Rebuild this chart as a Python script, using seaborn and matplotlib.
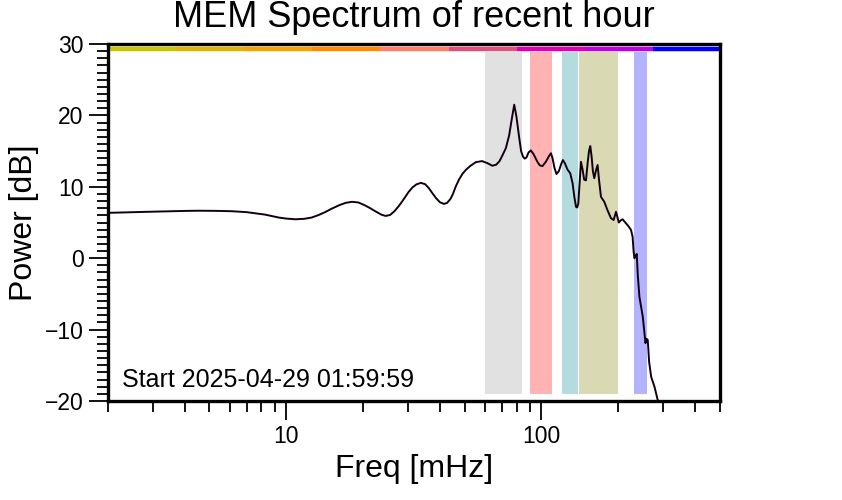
import numpy as np
import pandas as pd
import matplotlib
matplotlib.use("Agg")
import matplotlib.pyplot as plt
import matplotlib.ticker as mticker
import seaborn as sns

# spectrum (freq in mHz, power in dB)
freq = [2.0, 2.5, 2.88, 3.5, 4.0, 4.53, 5.3, 6.12, 7.0, 8.28, 9.33, 10.0, 10.86,
        11.8, 12.6, 13.4, 14.2, 15.1, 16.2, 17.1, 18.1, 19.2, 20.2, 21.1, 22.4,
        23.6, 24.5, 25.5, 26.5, 27.6, 28.4, 29.3, 30.2, 31.2, 32.4, 33.7, 35.0,
        36.2, 37.3, 38.6, 40.0, 41.5, 42.7, 44.0, 45.0, 46.1, 47.5, 49.0, 50.5,
        52.5, 55.3, 58.5, 61.5, 64.2, 66.5, 68.5, 70.3, 72.5, 74.7, 76.5, 78.2,
        79.8, 81.7, 83.2, 84.7, 86.0, 87.3, 89.0, 90.8, 93.0, 96.4, 98.5, 100.9,
        104.0, 107.0, 108.9, 110.5, 112.5, 114.5, 117.0, 119.5, 121.3, 123.5,
        126.5, 129.6, 132.4, 134.5, 136.5, 138.0, 139.4, 141.0, 142.8, 144.9,
        147.0, 149.4, 151.6, 153.5, 155.3, 157.2, 159.0, 161.0, 163.5, 165.9,
        168.0, 171.0, 176.2, 181.0, 187.2, 191.7, 195.9, 200.9, 204.5, 207.9,
        214.3, 220.0, 224.3, 227.5, 229.5, 231.2, 233.5, 236.1, 238.5, 241.9,
        249.4, 255.5, 258.0, 260.8, 264.0, 268.9, 277.1, 285.5, 295.0]
power = [6.35, 6.45, 6.5, 6.58, 6.62, 6.65, 6.63, 6.58, 6.45, 6.1, 5.7, 5.55, 5.45,
         5.52, 5.7, 6.05, 6.45, 6.95, 7.45, 7.75, 7.9, 7.8, 7.45, 7.1, 6.55,
         6.1, 5.92, 6.05, 6.55, 7.3, 7.9, 8.6, 9.3, 9.9, 10.35, 10.55, 10.37,
         9.82, 9.15, 8.43, 7.84, 7.6, 7.75, 8.3, 9.0, 10.0, 11.0, 11.8, 12.35,
         12.9, 13.45, 13.6, 13.3, 12.95, 13.1, 13.6, 14.4, 15.4, 17.2, 19.5, 21.5,
         19.8, 17.0, 15.0, 14.2, 13.95, 14.1, 14.8, 15.1, 14.6, 13.5, 13.0, 12.9,
         13.5, 14.3, 14.7, 14.0, 12.6, 11.8, 12.2, 13.2, 13.75, 13.3,
         12.4, 11.9, 10.5, 8.6, 7.2, 7.1, 7.7, 10.5, 13.5, 12.4,
         11.0, 10.9, 13.3, 15.0, 15.7, 14.2, 12.2, 11.2, 12.3, 13.05,
         11.0, 8.6, 7.9, 6.8, 5.6, 5.35, 6.5, 5.0, 5.3, 5.45,
         4.9, 4.4, 3.95, 3.0, 1.0, 0.0, 0.2, 0.6, -2.5, -5.4,
         -8.2, -11.9, -11.3, -11.45, -14.5, -16.6, -18.0, -19.9, -22.0]

# shaded frequency bands
band_lo = [60, 90, 120, 140.5, 230]
band_hi = [84, 110, 139.5, 200, 260]
band_colors = ["#e1e1e1", "#ffb3b3", "#b4dcdf", "#d9d9b4", "#b3b3ff"]

# colour strip along the top
strip_edges = [2.0, 3.70, 6.84, 12.65, 23.4, 43.3, 80.0, 148.0, 274.0, 500.0]
strip_colors = ["#c8c800", "#e0b400", "#f5a300", "#ff8c00", "#ff7f68",
                "#e0507c", "#e000b4", "#c000e0", "#0000ff"]

start_label = "Start 2025-04-29 01:59:59"

sns.set_style("ticks")
plt.rcParams['font.family'] = ['Liberation Sans', 'DejaVu Sans']
plt.rcParams['axes.unicode_minus'] = True
for k in ["text.color", "axes.labelcolor", "xtick.color", "ytick.color"]:
    plt.rcParams[k] = "black"

fig = plt.figure(figsize=(8.42, 5.0), dpi=100)
ax = fig.add_axes([0.128, 0.198, 0.727, 0.714])

for lo, hi, c in zip(band_lo, band_hi, band_colors):
    ax.axvspan(lo, hi, ymin=0.02, ymax=0.978, color=c, lw=0)

ax.hlines([29.35] * len(strip_colors), strip_edges[:-1], strip_edges[1:],
          colors=strip_colors, lw=3.2)

df = pd.DataFrame({"freq": freq, "power": power})
sns.lineplot(data=df, x="freq", y="power", ax=ax, color="#120012", lw=1.4)

ax.set_xscale("log")
ax.set_xlim(2, 500)
ax.set_ylim(-20, 30)
ax.xaxis.set_major_locator(mticker.FixedLocator([10, 100]))
ax.xaxis.set_major_formatter(mticker.FixedFormatter(["10", "100"]))
ax.xaxis.set_minor_locator(mticker.LogLocator(base=10, subs=np.arange(2, 10)))
ax.xaxis.set_minor_formatter(mticker.NullFormatter())
ax.yaxis.set_major_locator(mticker.MultipleLocator(10))
ax.yaxis.set_minor_locator(mticker.MultipleLocator(1))

ax.tick_params(axis="both", which="major", direction="out", length=14, width=1.3,
               labelsize=16.5, color="black")
ax.tick_params(axis="both", which="minor", direction="out", length=8, width=1.3,
               color="black")
for s in ax.spines.values():
    s.set_linewidth(2.4)
    s.set_color("black")

ax.set_xlabel("Freq [mHz]", fontsize=23)
ax.set_ylabel("Power [dB]", fontsize=23)
ax.set_title("MEM Spectrum of recent hour", fontsize=26, pad=12)
ax.text(0.024, 0.058, start_label, transform=ax.transAxes, fontsize=18,
        ha="left", va="center")

fig.savefig("out.png", dpi=100)
